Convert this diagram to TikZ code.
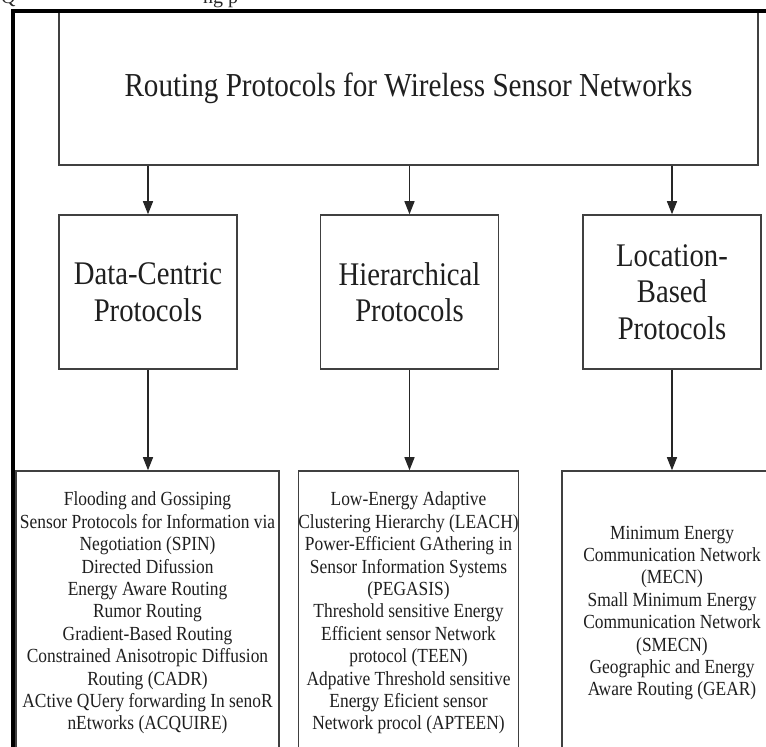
\documentclass[tikz,border=0pt]{standalone}
\usepackage{fontspec}
\setmainfont{Liberation Serif}
\newfontfamily\condserif[FakeStretch=0.87]{Liberation Serif}
\usetikzlibrary{arrows.meta}
\begin{document}
\begin{tikzpicture}[x=1pt,y=-1pt,
  box/.style={draw=black!75, line width=1.6pt, rectangle, inner sep=0pt, align=center, text=black!88},
  midbox/.style={box, minimum width=178pt, minimum height=154pt, font=\condserif\fontsize{33}{36.5}\selectfont},
  lowbox/.style={box, minimum height=284pt, font=\condserif\fontsize{20}{22.4}\selectfont},
  arr/.style={draw=black!85, line width=1.3pt, -{Triangle[length=13pt,width=10pt]}},
  frag/.style={anchor=base west, inner sep=0pt, font=\fontsize{20}{20}\selectfont, text=black!85},
]
\useasboundingbox (0,0) rectangle (766,747);
\clip (0,0) rectangle (766,747);
\fill[white] (0,0) rectangle (766,747);

% cut-off text at the very top
\node[frag] (q) at (1,3) {Q};
\node[frag] (ngp) at (203,3) {ng p};

% top box
\node[box, minimum width=699pt, minimum height=153pt, font=\condserif\fontsize{33.5}{38}\selectfont] (top) at (408.5,88.5)
  {Routing Protocols for Wireless Sensor Networks};

% middle boxes
\node[midbox] (dc) at (148,292) {Data-Centric\\Protocols};
\node[midbox] (hi) at (409.5,292) {Hierarchical\\Protocols};
\node[midbox] (lb) at (672,292) {Location-\\Based\\Protocols};

% bottom boxes
\node[lowbox, minimum width=263pt] (dcl) at (147.5,613) {Flooding and Gossiping\\Sensor Protocols for Information via\\Negotiation (SPIN)\\Directed Difussion\\Energy Aware Routing\\Rumor Routing\\Gradient-Based Routing\\Constrained Anisotropic Diffusion\\Routing (CADR)\\ACtive QUery forwarding In senoR\\nEtworks (ACQUIRE)};
\node[lowbox, minimum width=219pt] (hil) at (408.5,613) {Low-Energy Adaptive\\Clustering Hierarchy (LEACH)\\Power-Efficient GAthering in\\Sensor Information Systems\\(PEGASIS)\\Threshold sensitive Energy\\Efficient sensor Network\\protocol (TEEN)\\Adpative Threshold sensitive\\Energy Eficient sensor\\Network procol (APTEEN)};
\node[lowbox, minimum width=220pt] (lbl) at (672,613) {Minimum Energy\\Communication Network\\(MECN)\\Small Minimum Energy\\Communication Network\\(SMECN)\\Geographic and Energy\\Aware Routing (GEAR)};

% connectors
\draw[arr] (top.south -| dc.north) -- (dc.north);
\draw[arr] (top.south -| hi.north) -- (hi.north);
\draw[arr] (top.south -| lb.north) -- (lb.north);
\draw[arr] (dc.south) -- (dc.south |- dcl.north);
\draw[arr] (hi.south) -- (hi.south |- hil.north);
\draw[arr] (lb.south) -- (lb.south |- lbl.north);

% thick outer frame (left and top)
\draw[line width=3.5pt, black] (13,760) -- (13,11) -- (780,11);
\end{tikzpicture}
\end{document}
